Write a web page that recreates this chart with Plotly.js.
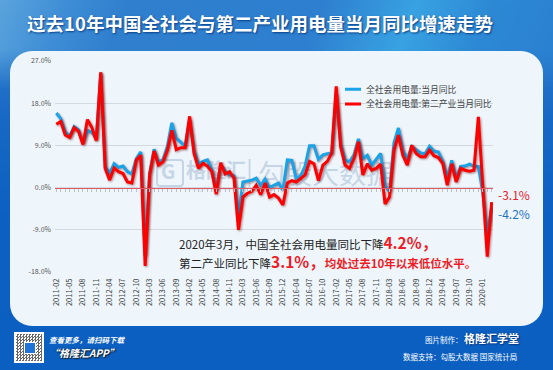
<!DOCTYPE html>
<html><head><meta charset="utf-8">
<script src="https://cdn.plot.ly/plotly-3.0.1.min.js"></script>
<style>
html,body{margin:0;padding:0;width:553px;height:370px;overflow:hidden;}
body{position:relative;background:linear-gradient(180deg,#2f80cf 0,#2a78cb 50px,#1768c4 120px,#0c60c1 220px,#0b5fc0 100%);font-family:"Noto Sans CJK SC","Noto Sans",sans-serif;}
#hdr{position:absolute;left:0;top:0;width:553px;height:90px;
background:linear-gradient(112deg,#5aa3dc 0%,#3d8cd5 12%,#2f7fce 22%,#2e7fcf 55%,#38a2e2 71%,#2c88d4 84%,#2b7fd0 100%);
-webkit-mask-image:linear-gradient(180deg,#000 0,#000 50px,transparent 90px);mask-image:linear-gradient(180deg,#000 0,#000 50px,transparent 90px);}
#panel{position:absolute;left:10px;top:51px;width:533px;height:275px;border-radius:22px;background:#eef6fc;overflow:hidden;}
.wm{position:absolute;color:#c6d5e6;white-space:nowrap;line-height:1;}
#logo{position:absolute;left:146px;top:108px;width:24px;height:24px;border:2px solid #c6d5e6;border-radius:4px;}
#qr{position:absolute;left:14px;top:332px;width:30px;height:31px;background:#fff;}
#qr .in{position:absolute;left:2px;top:2px;width:26px;height:27px;background-image:repeating-conic-gradient(#444 0 25%,#fff 0 50%);background-size:3px 3px;opacity:.8;}
#qr .g{position:absolute;left:10px;top:10px;width:10px;height:10px;background:#1f74d6;border:1px solid #fff;}
.ft{position:absolute;color:#fff;white-space:nowrap;line-height:1;}
#plot{position:absolute;left:0;top:0;width:553px;height:370px;}
#plot .scatterlayer path.js-line{filter:drop-shadow(1px 1.5px 1px rgba(80,0,0,.45));}
</style></head>
<body>
<div id="hdr"></div>
<div id="panel">
  <div id="logo"></div>
  <div class="wm" style="left:151px;top:110px;font-size:20px;font-weight:bold;">G</div>
  <div class="wm" style="left:176px;top:109px;font-size:20px;font-weight:bold;">格隆汇</div>
  <div class="wm" style="left:176px;top:134px;font-size:5px;">www.gelonghui.com</div>
  <div class="wm" style="left:236px;top:106px;font-size:26px;">|</div>
  <div class="wm" style="left:248px;top:108px;font-size:27px;">勾股大数据</div>
</div>
<div id="qr"><div class="in"></div><div class="g"></div></div>
<div class="ft" style="left:49px;top:336px;font-size:7.5px;font-style:italic;font-weight:bold;">查看更多，请扫码下载</div>
<div class="ft" style="left:49px;top:348px;font-size:10px;font-style:italic;font-weight:bold;text-shadow:0 0 2px #123,1px 1px 1px #123;">“格隆汇APP”</div>
<div class="ft" style="left:425px;top:336px;font-size:7.5px;">图片制作：</div>
<div class="ft" style="left:464px;top:333px;font-size:11px;font-weight:bold;text-shadow:0 0 2px #0a3c8a,1px 1px 1px #0a3c8a;">格隆汇学堂</div>
<div class="ft" style="left:403px;top:353px;font-size:7.5px;">数据支持：勾股大数据 国家统计局</div>
<div id="plot"></div>
<script>
var months = ["2011-02","2011-03","2011-04","2011-05","2011-06","2011-07","2011-08","2011-09","2011-10","2011-11",
"2012-02","2012-03","2012-04","2012-05","2012-06","2012-07","2012-08","2012-09","2012-10","2012-11",
"2013-02","2013-03","2013-04","2013-05","2013-06","2013-07","2013-08","2013-09","2013-10","2013-11",
"2014-02","2014-03","2014-04","2014-05","2014-06","2014-07","2014-08","2014-09","2014-10","2014-11","2014-12",
"2015-02","2015-03","2015-04","2015-05","2015-06","2015-07","2015-08","2015-09","2015-10","2015-11","2015-12",
"2016-02","2016-03","2016-04","2016-05","2016-06","2016-07","2016-08","2016-09","2016-10","2016-11","2016-12",
"2017-02","2017-03","2017-04","2017-05","2017-06","2017-07","2017-08","2017-09","2017-10","2017-11","2017-12",
"2018-02","2018-03","2018-04","2018-05","2018-06","2018-07","2018-08","2018-09","2018-10","2018-11","2018-12",
"2019-02","2019-03","2019-04","2019-05","2019-06","2019-07","2019-08","2019-09","2019-10","2019-11","2019-12",
"2020-01","2020-02","2020-03"];
var tickLabels = ["2011-02","2011-05","2011-08","2011-11","2012-04","2012-07","2012-10","2013-03","2013-06","2013-09",
"2014-02","2014-05","2014-08","2014-11","2015-03","2015-06","2015-09","2015-12","2016-04","2016-07","2016-10",
"2017-02","2017-05","2017-08","2017-11","2018-03","2018-06","2018-09","2018-12","2019-04","2019-07","2019-10","2020-01"];
var totalYoY = [15.9,14.7,11.8,11.0,13.0,12.3,9.5,12.2,11.8,10.4,
24.5,4.4,3.1,5.1,4.3,4.6,3.4,2.9,6.2,7.6,
-14.5,3.0,8.2,5.2,6.0,8.8,13.8,10.5,9.7,8.8,
14.5,8.0,5.0,5.6,5.9,3.8,-0.5,4.8,3.6,2.7,2.5,
-6.5,1.2,1.4,1.6,2.0,0.5,1.8,0.0,0.5,1.0,-0.5,
5.9,5.8,2.0,2.5,4.6,8.9,8.9,6.0,7.0,7.2,7.4,
20.0,9.4,5.9,5.5,7.0,10.4,6.2,6.9,4.8,6.0,7.3,
0.5,-0.9,9.5,12.7,8.0,6.0,8.8,8.0,7.4,7.2,8.8,
7.8,7.6,5.6,2.0,5.8,2.0,4.5,4.6,5.0,4.6,4.5,
-1.0,-10.1,-4.2];
var secondaryYoY = [13.5,14.1,11.2,10.7,12.8,12.0,9.2,14.5,12.8,10.0,
24.6,4.1,1.6,4.2,3.4,3.0,1.2,1.0,5.9,6.9,
-16.7,2.7,7.8,4.8,5.5,8.0,12.2,8.1,8.5,8.5,
15.2,7.3,4.1,5.2,4.6,3.4,-1.4,5.3,2.9,3.4,2.0,
-9.0,-2.0,-1.2,-0.8,0.5,-1.5,1.0,-2.0,-1.5,-2.2,-3.7,
1.0,1.5,1.2,2.0,2.7,5.6,5.1,1.5,4.8,5.6,7.4,
21.6,8.7,4.8,4.1,6.2,9.8,2.7,5.1,3.7,4.1,5.0,
-3.5,-2.0,8.0,11.2,6.9,4.8,9.0,7.3,6.6,6.6,8.0,
6.8,6.4,5.1,0.5,5.1,1.2,4.1,3.7,3.5,3.7,15.1,
0.0,-14.7,-3.1];
var yTicks = [-18,-9,0,9,18,27];
var yTickText = ["-18.0%","-9.0%","0.0%","9.0%","18.0%","27.0%"];
var seriesNames = ["全社会用电量:当月同比","全社会用电量:第二产业当月同比"];

var ML=55, MR=60, MT=61, MB=98, W=553-ML-MR, H=370-MT-MB;
function px(x){return (x-ML)/W;}
function py(y){return (370-MB-y)/H;}
var FONT='Noto Sans CJK SC, Noto Sans, sans-serif';

var traces = [
 {x:months,y:totalYoY,type:'scatter',mode:'lines',name:seriesNames[0],line:{color:'#19a3e8',width:3},legend:'legend',hoverinfo:'skip'},
 {x:months,y:secondaryYoY,type:'scatter',mode:'lines',name:seriesNames[1],line:{color:'#ff0000',width:3},legend:'legend2',hoverinfo:'skip'},
 {x:months,y:totalYoY,type:'scatter',mode:'lines',xaxis:'x2',line:{width:0,color:'rgba(0,0,0,0)'},showlegend:false,hoverinfo:'skip'}
];
var xr=[-0.3, months.length-1+0.3];
var layout = {
 width:553,height:370,margin:{l:ML,r:MR,t:MT,b:MB},
 paper_bgcolor:'rgba(0,0,0,0)',plot_bgcolor:'rgba(0,0,0,0)',
 font:{family:FONT,color:'#444'},
 title:{text:'过去10年中国全社会与第二产业用电量当月同比增速走势',xref:'container',yref:'container',x:260/553,xanchor:'center',y:1-25/370,yanchor:'middle',
   font:{family:FONT,size:18.5,color:'#ffffff',weight:'bold',shadow:'1px 1px 2px #0b3e86'}},
 xaxis:{type:'category',categoryorder:'array',categoryarray:months,range:xr,tickmode:'array',tickvals:tickLabels,ticktext:tickLabels,
   tickangle:-90,tickfont:{size:7.5,color:'#444'},showgrid:false,ticks:'',showline:false,zeroline:false,ticklabelstandoff:4,fixedrange:true},
 xaxis2:{type:'category',categoryorder:'array',categoryarray:months,range:xr,overlaying:'x',anchor:'free',position:(0-yTicks[0])/(yTicks[yTicks.length-1]-yTicks[0]),
   showline:true,linecolor:'#e05b63',linewidth:1.5,ticks:'outside',ticklen:3,tickcolor:'#b9c0c8',tickwidth:1,tickmode:'linear',tick0:0,dtick:1,
   showticklabels:false,showgrid:false,zeroline:false,fixedrange:true},
 yaxis:{range:[yTicks[0],yTicks[yTicks.length-1]],tickmode:'array',tickvals:yTicks,ticktext:yTickText,tickfont:{size:7,color:'#555'},
   gridcolor:'#d3d9e0',gridwidth:1,zeroline:false,ticks:'',showline:false,ticklabelstandoff:3,fixedrange:true},
 showlegend:true,
 legend:{x:px(326),xanchor:'left',y:py(89.3),yanchor:'middle',bgcolor:'rgba(0,0,0,0)',borderwidth:0,font:{size:8.8,color:'#444'},itemwidth:30},
 legend2:{x:px(326),xanchor:'left',y:py(104),yanchor:'middle',bgcolor:'rgba(0,0,0,0)',borderwidth:0,font:{size:8.8,color:'#444'},itemwidth:30},
 annotations:[
  {xref:'paper',yref:'paper',x:px(496),y:py(194),xanchor:'left',yanchor:'middle',showarrow:false,text:'-3.1%',font:{size:12,color:'#e8202a'}},
  {xref:'paper',yref:'paper',x:px(496),y:py(213.3),xanchor:'left',yanchor:'middle',showarrow:false,text:'-4.2%',font:{size:12,color:'#1f72c8'}},
  {xref:'paper',yref:'paper',x:px(177),y:py(242),xanchor:'left',yanchor:'middle',showarrow:false,
   text:'2020年3月，中国全社会用电量同比下降<span style="color:#ee1c25;font-size:15.5px"><b>4.2%，</b></span>',font:{size:11.5,color:'#222'}},
  {xref:'paper',yref:'paper',x:px(177),y:py(261),xanchor:'left',yanchor:'middle',showarrow:false,
   text:'第二产业同比下降<span style="color:#ee1c25;font-size:15.5px"><b>3.1%，</b></span><span style="color:#ee1c25"><b>均处过去10年以来低位水平。</b></span>',font:{size:11.5,color:'#222'}}
 ]
};
Plotly.newPlot('plot',traces,layout,{displayModeBar:false,staticPlot:true}).then(function(){
  document.querySelectorAll('#plot .legendlines path').forEach(function(p){p.setAttribute('d','M19,0h16');});
});
</script>
</body></html>
